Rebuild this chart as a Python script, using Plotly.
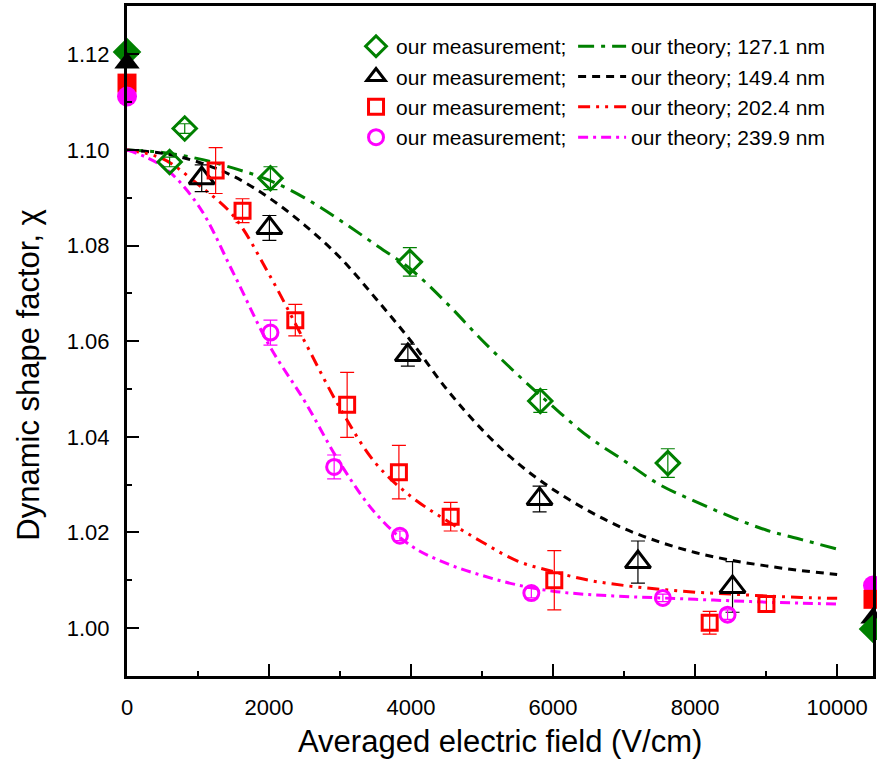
import plotly.graph_objects as go

# ---------------- data ----------------
# measurements (x in V/cm, y = dynamic shape factor, err = +/-)
g_x = [600, 813, 2020, 3983, 5820, 7616]
g_y = [1.0975, 1.1045, 1.0941, 1.0766, 1.0475, 1.0345]
g_e = [0.0010, 0.0010, 0.0024, 0.0030, 0.0024, 0.0030]

k_x = [1052, 2005, 3955, 5810, 7195, 8527]
k_y = [1.0941, 1.0837, 1.0571, 1.0270, 1.0138, 1.0086]
k_e = [0.0028, 0.0026, 0.0023, 0.0027, 0.0044, 0.0053]

r_x = [1248, 1627, 2370, 3100, 3829, 4558, 6017, 8205, 9004]
r_y = [1.0957, 1.0873, 1.0644, 1.0467, 1.0326, 1.0233, 1.0100, 1.0011, 1.0050]
r_e = [0.0048, 0.0025, 0.0033, 0.0068, 0.0056, 0.0030, 0.0062, 0.0024, 0.0017]

m_x = [2020, 2917, 3843, 5694, 7546, 8457]
m_y = [1.0618, 1.0337, 1.0193, 1.0073, 1.0063, 1.0028]
m_e = [0.0026, 0.0025, 0.0010, 0.0010, 0.0008, 0.0010]

# theory curves
t_x = [0, 500, 1000, 1500, 2000, 2500, 3000, 3500, 4000, 4500, 5000,
       5500, 6000, 6500, 7000, 7500, 8000, 8500, 9000, 9500, 10000]
t_green = [1.1000, 1.0995, 1.0982, 1.0962, 1.0937, 1.0900, 1.0853, 1.0802, 1.0750, 1.0680, 1.0602,
           1.0530, 1.0463, 1.0400, 1.0350, 1.0300, 1.0265, 1.0233, 1.0205, 1.0185, 1.0165]
t_black = [1.1000, 1.0993, 1.0975, 1.0945, 1.0900, 1.0843, 1.0775, 1.0690, 1.0600, 1.0500, 1.0415,
           1.0345, 1.0290, 1.0245, 1.0208, 1.0180, 1.0158, 1.0142, 1.0130, 1.0120, 1.0112]
t_red = [1.1000, 1.0982, 1.0928, 1.0862, 1.0740, 1.0600, 1.0460, 1.0345, 1.0275, 1.0225, 1.0180,
         1.0140, 1.0118, 1.0100, 1.0089, 1.0081, 1.0075, 1.0071, 1.0067, 1.0064, 1.0062]
t_magenta = [1.1000, 1.0966, 1.0885, 1.0742, 1.0592, 1.0475, 1.0345, 1.0240, 1.0172, 1.0135, 1.0110,
             1.0090, 1.0077, 1.0070, 1.0066, 1.0063, 1.0060, 1.0057, 1.0054, 1.0052, 1.0050]

# filled markers at the left and right frame
left_x = [0, 0, 0, 0]
left_y = [1.1205, 1.1182, 1.1140, 1.1112]
right_x = [10505, 10505, 10505, 10505]
right_y = [0.9998, 1.0021, 1.0060, 1.0089]

labels = ["127.1 nm", "149.4 nm", "202.4 nm", "239.9 nm"]

GREEN = "#008000"
BLACK = "#000000"
RED = "#FF0000"
MAG = "#FF00FF"
colors = [GREEN, BLACK, RED, MAG]
open_symbols = ["diamond-open", "triangle-up-open", "square-open", "circle-open"]
filled_symbols = ["diamond", "triangle-up", "square", "circle"]
msizes = [18, 22, 15, 15]
fsizes = [22, 22, 19, 20]
dashes = ["16px,7px,4px,7px", "8px,6px", "12px,6px,3px,6px,3px,6px", "10px,5px,3px,5px"]

meas = [(g_x, g_y, g_e), (k_x, k_y, k_e), (r_x, r_y, r_e), (m_x, m_y, m_e)]
theory = [t_green, t_black, t_red, t_magenta]

fig = go.Figure()

# theory curves (legend2)
for i in range(4):
    fig.add_trace(go.Scatter(
        x=t_x, y=theory[i], mode="lines", line_shape="spline",
        line=dict(color=colors[i], width=3, dash=dashes[i]),
        name="our theory; " + labels[i], legend="legend2",
        legendgroup="t%d" % i,
    ))

# measurements (legend)
for i in range(4):
    xs, ys, es = meas[i]
    fig.add_trace(go.Scatter(
        x=xs, y=ys, mode="markers",
        marker=dict(symbol=open_symbols[i], size=msizes[i], color=colors[i],
                    line=dict(color=colors[i], width=3)),
        error_y=dict(type="data", array=es, visible=True, color=colors[i],
                     thickness=1.2, width=7),
        name="our measurement;", legend="legend", legendgroup="m%d" % i,
    ))

# filled edge markers
for i in range(4):
    fig.add_trace(go.Scatter(
        x=[left_x[i]], y=[left_y[i]], mode="markers", showlegend=False,
        cliponaxis=False,
        marker=dict(symbol=filled_symbols[i], size=fsizes[i], color=colors[i],
                    line=dict(width=0)),
    ))
for i in [3, 2, 1, 0]:
    fig.add_trace(go.Scatter(
        x=[right_x[i]], y=[right_y[i]], mode="markers", showlegend=False,
        cliponaxis=False,
        marker=dict(symbol=filled_symbols[i], size=fsizes[i], color=colors[i],
                    line=dict(width=0)),
    ))

FONT = "Arial, Liberation Sans, sans-serif"

fig.update_layout(
    width=877, height=767,
    margin=dict(l=127, r=1, t=6, b=91),
    paper_bgcolor="white", plot_bgcolor="white",
    font=dict(family=FONT, color="black"),
    legend=dict(x=0.307, y=0.970, xanchor="left", yanchor="top",
                font=dict(size=21, family=FONT), bgcolor="rgba(0,0,0,0)",
                tracegroupgap=0, itemwidth=30),
    legend2=dict(x=0.598, y=0.970, xanchor="left", yanchor="top",
                 font=dict(size=21, family=FONT), bgcolor="rgba(0,0,0,0)",
                 tracegroupgap=0, itemwidth=48),
    xaxis=dict(range=[0, 10505], showgrid=False, zeroline=False,
               showline=True, linecolor="black", linewidth=3, mirror=True,
               ticks="inside", ticklen=12, tickwidth=2, tickcolor="black",
               dtick=2000, tick0=0, tickformat="d",
               tickfont=dict(size=22, family=FONT), ticklabelstandoff=10,
               minor=dict(ticks="inside", dtick=1000, ticklen=5, tickwidth=2,
                          tickcolor="black")),
    yaxis=dict(range=[0.98996, 1.13013], showgrid=False, zeroline=False,
               showline=True, linecolor="black", linewidth=3, mirror=True,
               ticks="inside", ticklen=12, tickwidth=2, tickcolor="black",
               dtick=0.02, tick0=1.0, tickformat=".2f",
               tickfont=dict(size=22, family=FONT), ticklabelstandoff=10,
               minor=dict(ticks="inside", dtick=0.01, ticklen=5, tickwidth=2,
                          tickcolor="black")),
    annotations=[
        dict(text="Averaged electric field (V/cm)", xref="paper", yref="paper",
             x=0.5, y=-0.0985, xanchor="center", yanchor="middle",
             showarrow=False, font=dict(size=31, family=FONT)),
        dict(text="Dynamic shape factor, \u03c7", xref="paper", yref="paper",
             x=-0.132, y=0.449, xanchor="center", yanchor="middle",
             textangle=-90, showarrow=False, font=dict(size=31, family=FONT)),
    ],
)

fig.write_html("out.html")
